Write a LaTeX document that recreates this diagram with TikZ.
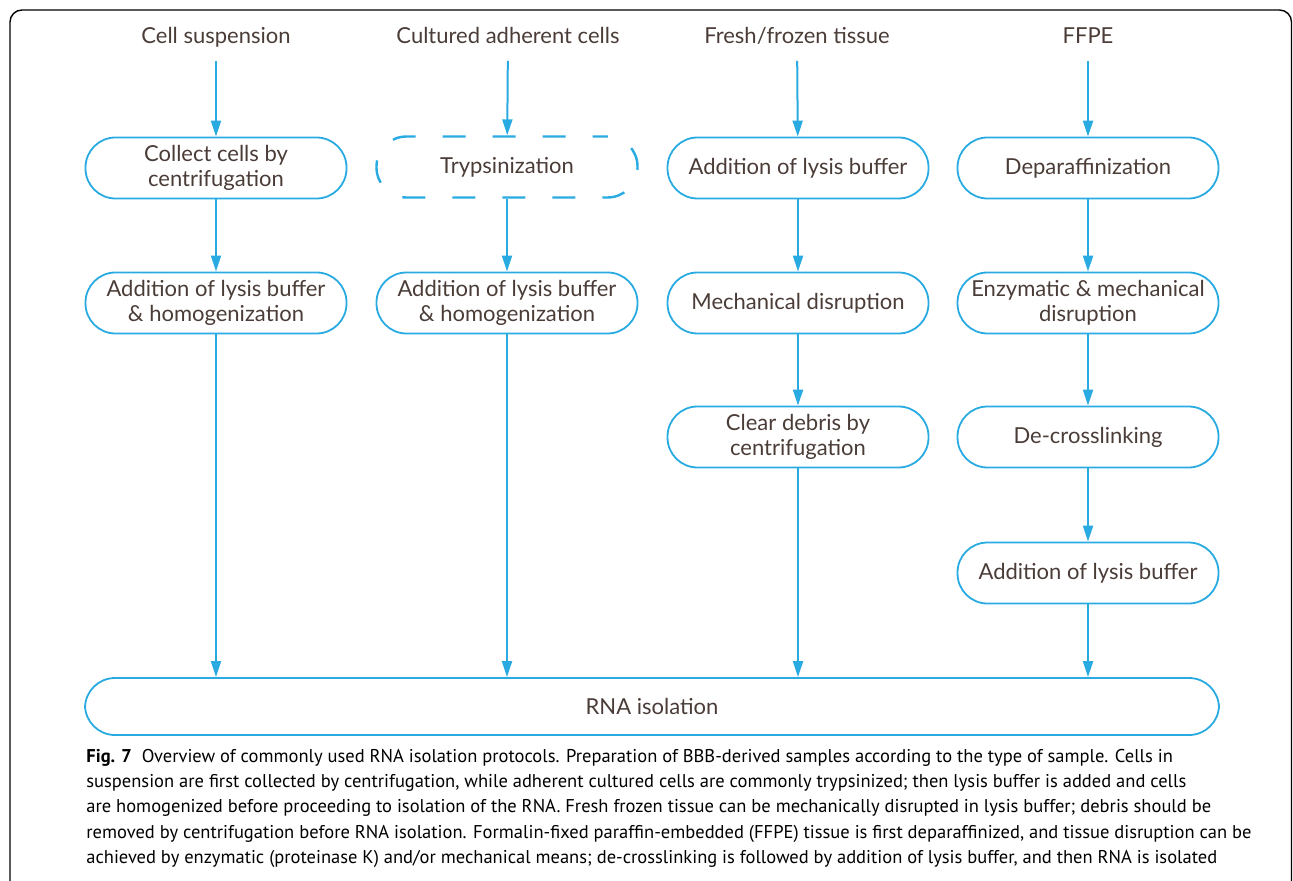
\documentclass[tikz,border=0pt]{standalone}
\usepackage{fontspec}
\setmainfont{Lato}
\newfontfamily\capfont{PT Sans}
\usepackage{xcolor}
\usetikzlibrary{arrows.meta}
\definecolor{flowblue}{HTML}{29ABE2}
\definecolor{txtbrown}{HTML}{4A3C37}
\tikzset{
  procbox/.style={draw=flowblue,line width=0.9pt,rounded corners=15pt,
    minimum width=130.5pt,minimum height=30.5pt,align=center,
    text=txtbrown,font=\fontsize{11}{12.5}\selectfont},
  optbox/.style={procbox,line width=1.2pt,dash pattern=on 11.5pt off 13.5pt,dash phase=4pt},
  srclabel/.style={text=txtbrown,text height=8.6pt,text depth=1.2pt,font=\fontsize{11}{12.5}\selectfont},
  flow/.style={draw=flowblue,line width=1pt,-{Triangle[length=8pt,width=5pt]}},
  srcflow/.style={flow,shorten <=4pt}
}
\begin{document}
\begin{tikzpicture}[x=0.5pt,y=-0.5pt]
            \useasboundingbox (0,0) rectangle (1293,881);
            % frame
            \draw[line width=0.7pt,rounded corners=6pt] (10,900)--(10,10)--(1291.5,10)--(1291.5,900);
            % sample types
            \node[srclabel] (cs) at (216,36) {Cell suspension};
            \node[srclabel] (ca) at (508,36) {Cultured adherent cells};
            \node[srclabel] (ft) at (797,36) {Fresh/frozen tissue};
            \node[srclabel] (ff) at (1088,36) {FFPE};
            % cell suspension
            \node[procbox] (cs1) at (216,168) {Collect cells by\\centrifugation};
            \node[procbox] (cs2) at (216,303) {Addition of lysis buffer\\\& homogenization};
            % cultured adherent cells
            \node[optbox] (ca1) at (507,167) {Trypsinization};
            \node[procbox] (ca2) at (507,303) {Addition of lysis buffer\\\& homogenization};
            % fresh/frozen tissue
            \node[procbox] (ft1) at (798,168) {Addition of lysis buffer};
            \node[procbox] (ft2) at (798,303) {Mechanical disruption};
            \node[procbox] (ft3) at (798,437) {Clear debris by\\centrifugation};
            % FFPE
            \node[procbox] (ff1) at (1088,168) {Deparaffinization};
            \node[procbox] (ff2) at (1088,303) {Enzymatic \& mechanical\\disruption};
            \node[procbox] (ff3) at (1088,437) {De-crosslinking};
            \node[procbox] (ff4) at (1088,573) {Addition of lysis buffer};
            % common end
            \node[procbox,minimum width=567pt,minimum height=28.5pt] (rna) at (652,706.5) {RNA isolation};
            % arrows
            \draw[srcflow] (cs)--(cs1);
            \draw[srcflow] (ca)--(ca1);
            \draw[srcflow] (ft)--(ft1);
            \draw[srcflow] (ff)--(ff1);
            \draw[flow] (cs1)--(cs2);
            \draw[flow] (ca1)--(ca2);
            \draw[flow] (ft1)--(ft2);
            \draw[flow] (ft2)--(ft3);
            \draw[flow] (ff1)--(ff2);
            \draw[flow] (ff2)--(ff3);
            \draw[flow] (ff3)--(ff4);
            \draw[flow] (cs2.south)--(cs2.south |- rna.north);
            \draw[flow] (ca2.south)--(ca2.south |- rna.north);
            \draw[flow] (ft3.south)--(ft3.south |- rna.north);
            \draw[flow] (ff4.south)--(ff4.south |- rna.north);
            % caption
            \node[anchor=north west,align=left,inner sep=0pt,font=\capfont\fontsize{9.25}{12.6}\selectfont] (cap) at (86,749)
              {\textbf{Fig. 7}\ \ Overview of commonly used RNA isolation protocols. Preparation of BBB-derived samples according to the type of sample. Cells in\\
               suspension are first collected by centrifugation, while adherent cultured cells are commonly trypsinized; then lysis buffer is added and cells\\
               are homogenized before proceeding to isolation of the RNA. Fresh frozen tissue can be mechanically disrupted in lysis buffer; debris should be\\
               removed by centrifugation before RNA isolation. Formalin-fixed paraffin-embedded (FFPE) tissue is first deparaffinized, and tissue disruption can be\\
               achieved by enzymatic (proteinase K) and/or mechanical means; de-crosslinking is followed by addition of lysis buffer, and then RNA is isolated};
\end{tikzpicture}
\end{document}
